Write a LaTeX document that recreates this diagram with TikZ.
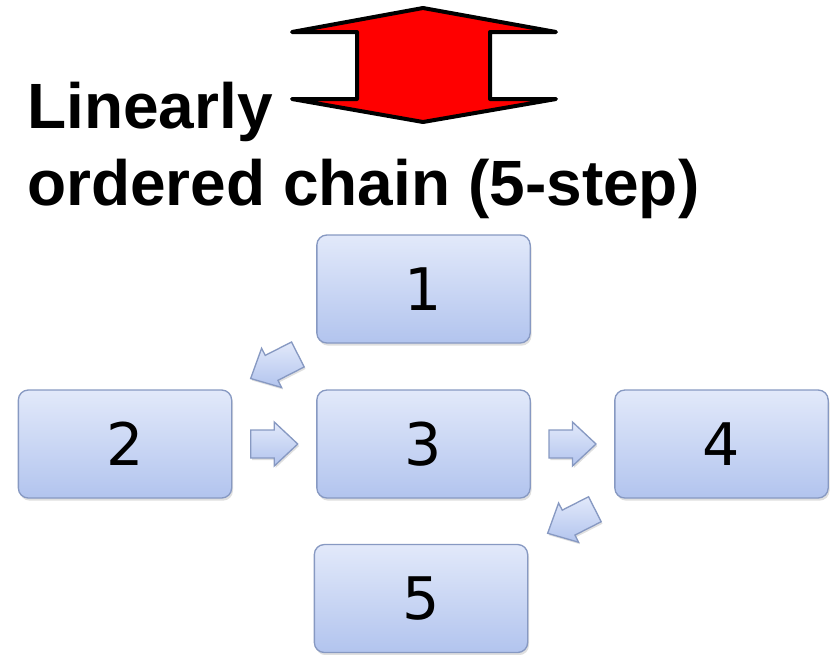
\documentclass[tikz,border=0pt]{standalone}
\usepackage{fontspec}
\setmainfont{Liberation Sans}
\newfontfamily\digitfont{DejaVu Sans}
\usetikzlibrary{calc,shadows}
\definecolor{boxtop}{HTML}{E2E9FA}
\definecolor{boxbot}{HTML}{B2C4EE}
\definecolor{boxline}{HTML}{8799C2}
\definecolor{redfill}{HTML}{FF0000}
\tikzset{
  stepbox/.style={draw=boxline, line width=1pt, rounded corners=7.5pt,
    top color=boxtop, bottom color=boxbot,
    minimum width=160pt, minimum height=81pt, inner sep=0pt,
    font=\digitfont\fontsize{44}{44}\selectfont,
    drop shadow={opacity=0.25, shadow xshift=1pt, shadow yshift=-2pt}},
  titletext/.style={anchor=base west, inner sep=0pt,
    font=\bfseries\fontsize{48}{58}\selectfont},
  blockarrow/.style={draw=boxline, line width=1pt, line join=miter,
    top color=boxtop, bottom color=boxbot,
    drop shadow={opacity=0.25, shadow xshift=1pt, shadow yshift=-1.5pt}},
  bigarrow/.style={draw=black, line width=3pt, line join=round, fill=redfill},
  barrow/.pic={
    \path[blockarrow] ({-#1/2},-14) -- ({#1/2-23.5},-14) -- ({#1/2-23.5},-22)
      -- ({#1/2},0) -- ({#1/2-23.5},22) -- ({#1/2-23.5},14) -- ({-#1/2},14) -- cycle;
  }
}
\begin{document}
\begin{tikzpicture}[x=0.75pt,y=-0.75pt]
\useasboundingbox (0,0) rectangle (834,654);
% red up-down arrow
\draw[bigarrow] (423,8) -- (556,32) -- (490,32) -- (490,99) -- (556,99)
  -- (423,122) -- (292,99) -- (357,99) -- (357,32) -- (292,32) -- cycle;
% title
\node[titletext] (t1) at (27,128) {Linearly};
\node[titletext] (t2) at (27,205) {ordered chain (5-step)};
% boxes
\node[stepbox] (n1) at (423.5,289) {1};
\node[stepbox] (n2) at (125,444) {2};
\node[stepbox] (n3) at (423.5,444) {3};
\node[stepbox] (n4) at (721.5,444) {4};
\node[stepbox] (n5) at (421,598.5) {5};
% block arrows
\pic[rotate=207] at ($(n1.south west)!0.5!(n2.north east)$) {barrow=53};
\pic at ($(n2.east)!0.5!(n3.west)$) {barrow=47};
\pic at ($(n3.east)!0.5!(n4.west)$) {barrow=47};
\pic[rotate=207] at ($(n4.south west)!0.5!(n5.north east)$) {barrow=53};
\end{tikzpicture}
\end{document}
